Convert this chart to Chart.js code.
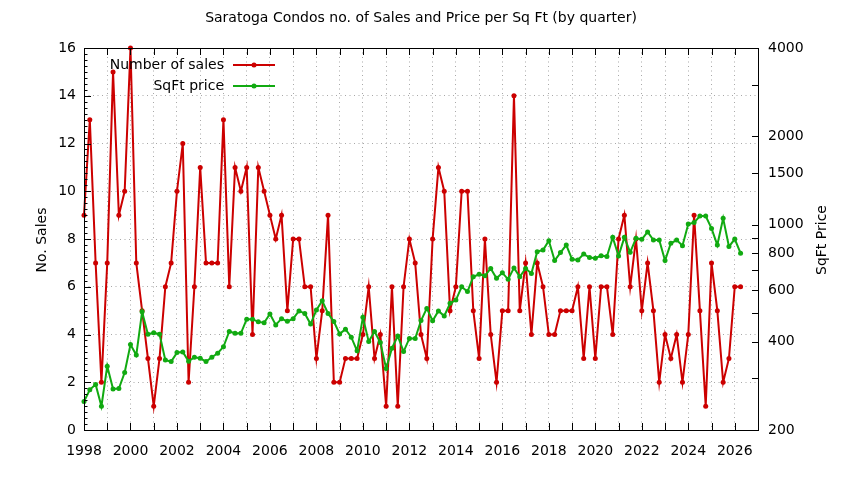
<!DOCTYPE html>
<html>
<head>
<meta charset="utf-8">
<script src="https://cdn.jsdelivr.net/npm/chart.js@4.4.0/dist/chart.umd.min.js"></script>
<style>
  html, body { margin: 0; padding: 0; background: #fff; }
  #wrap { width: 844px; height: 480px; }
</style>
</head>
<body>
<div id="wrap"><canvas id="myChart" width="844" height="480"></canvas></div>
<script>
// quarterly data, first point = 1998 Q1
var startYear = 1998;

var salesCount = [
  9, 13, 7, 2, 7, 15, 9, 10, 16, 7, 5, 3, 1, 3, 6, 7,
  10, 12, 2, 6, 11, 7, 7, 7, 13, 6, 11, 10, 11, 4, 11, 10,
  9, 8, 9, 5, 8, 8, 6, 6, 3, 5, 9, 2, 2, 3, 3, 3,
  4, 6, 3, 4, 1, 6, 1, 6, 8, 7, 4, 3, 8, 11, 10, 5,
  6, 10, 10, 5, 3, 8, 4, 2, 5, 5, 14, 5, 7, 4, 7, 6,
  4, 4, 5, 5, 5, 6, 3, 6, 3, 6, 6, 4, 8, 9, 6, 8,
  5, 7, 5, 2, 4, 3, 4, 2, 4, 9, 5, 1, 7, 5, 2, 3,
  6, 6
];

var sqftPrice = [
  250, 274, 286, 241, 330, 276, 277, 314, 391, 360, 506, 424, 429, 424, 346, 342,
  367, 369, 343, 354, 351, 342, 354, 365, 384, 433, 427, 427, 477, 477, 467, 464,
  497, 456, 479, 469, 479, 509, 499, 459, 513, 551, 499, 468, 425, 441, 414, 372,
  484, 400, 433, 397, 324, 380, 418, 370, 410, 410, 472, 519, 471, 509, 489, 540,
  554, 615, 592, 665, 678, 670, 710, 657, 686, 652, 713, 665, 710, 683, 810, 820,
  883, 755, 804, 853, 763, 759, 795, 773, 769, 785, 780, 906, 783, 906, 806, 899,
  892, 945, 887, 887, 755, 865, 887, 849, 1006, 1017, 1071, 1071, 972, 853, 1052, 843,
  894, 800
];

var priceTicks = [200, 300, 400, 500, 600, 700, 800, 900, 1000, 1500, 2000, 3000, 4000];
var priceLabels = [200, 400, 600, 800, 1000, 1500, 2000, 4000];

var red = '#cc0000';
var green = '#11aa11';

function toPoints(arr) {
  return arr.map(function (v, i) { return { x: startYear + i / 4, y: v }; });
}

Chart.defaults.font.family = '"DejaVu Sans", sans-serif';
Chart.defaults.font.size = 14;
Chart.defaults.color = '#000';

// gnuplot style frame, inward ticks, title, axis labels and legend
var gnuplotLook = {
  id: 'gnuplotLook',
  afterDraw: function (chart) {
    var ctx = chart.ctx;
    var a = chart.chartArea;
    var sx = chart.scales.x, sy = chart.scales.y, sy2 = chart.scales.y2;
    ctx.save();
    ctx.strokeStyle = '#000';
    ctx.lineWidth = 1;
    ctx.beginPath();
    var yr, p, v;
    for (yr = 1998; yr <= 2027; yr++) {
      p = Math.round(sx.getPixelForValue(yr)) + 0.5;
      ctx.moveTo(p, a.bottom); ctx.lineTo(p, a.bottom - 7);
      ctx.moveTo(p, a.top); ctx.lineTo(p, a.top + 7);
    }
    for (v = 0; v <= 16; v += 0.25) {
      p = Math.round(sy.getPixelForValue(v)) + 0.5;
      ctx.moveTo(a.left, p); ctx.lineTo(a.left + (v % 2 === 0 ? 7 : 3.5), p);
    }
    priceTicks.forEach(function (t) {
      p = Math.round(sy2.getPixelForValue(t)) + 0.5;
      ctx.moveTo(a.right, p); ctx.lineTo(a.right - 6, p);
    });
    ctx.stroke();
    ctx.strokeRect(Math.round(a.left) + 0.5, Math.round(a.top) + 0.5,
      Math.round(a.right - a.left), Math.round(a.bottom - a.top));

    ctx.fillStyle = '#000';
    ctx.font = '14px "DejaVu Sans", sans-serif';
    ctx.textAlign = 'center';
    ctx.textBaseline = 'middle';
    ctx.fillText('Saratoga Condos no. of Sales and Price per Sq Ft (by quarter)', 421, 18);

    ctx.save();
    ctx.translate(42, 240);
    ctx.rotate(-Math.PI / 2);
    ctx.fillText('No. Sales', 0, 0);
    ctx.restore();
    ctx.save();
    ctx.translate(822, 240);
    ctx.rotate(-Math.PI / 2);
    ctx.fillText('SqFt Price', 0, 0);
    ctx.restore();

    // key
    var keys = [['Number of sales', red, 65], ['SqFt price', green, 86]];
    keys.forEach(function (k) {
      ctx.textAlign = 'right';
      ctx.fillStyle = '#000';
      ctx.fillText(k[0], 224, k[2]);
      ctx.strokeStyle = k[1];
      ctx.lineWidth = 2;
      ctx.beginPath();
      ctx.moveTo(233, k[2]); ctx.lineTo(275, k[2]);
      ctx.stroke();
      ctx.fillStyle = k[1];
      ctx.beginPath();
      ctx.arc(254, k[2], 2.5, 0, Math.PI * 2);
      ctx.fill();
    });
    ctx.restore();
  }
};

var ctx = document.getElementById('myChart').getContext('2d');
var myChart = new Chart(ctx, {
  type: 'line',
  data: {
    datasets: [{
      label: 'Number of sales',
      data: toPoints(salesCount),
      yAxisID: 'y',
      borderColor: red,
      backgroundColor: red,
      borderWidth: 2,
      pointRadius: 2.5,
      pointBorderWidth: 0,
      tension: 0,
      clip: 4,
      order: 1
    }, {
      label: 'SqFt price',
      data: toPoints(sqftPrice),
      yAxisID: 'y2',
      borderColor: green,
      backgroundColor: green,
      borderWidth: 2,
      pointRadius: 2.5,
      pointBorderWidth: 0,
      tension: 0,
      clip: 4,
      order: 0
    }]
  },
  options: {
    responsive: false,
    animation: false,
    layout: { padding: { top: 48, left: 0, right: 0, bottom: 0 } },
    plugins: {
      legend: { display: false },
      title: { display: false },
      tooltip: { enabled: false }
    },
    scales: {
      x: {
        type: 'linear',
        min: 1998,
        max: 2027,
        afterFit: function (s) { s.height = 50; },
        ticks: {
          stepSize: 1,
          autoSkip: false,
          maxRotation: 0,
          padding: 13,
          callback: function (v) { return (v % 2 === 0 && v <= 2026) ? String(v) : ''; }
        },
        grid: { color: '#a8a8a8', lineWidth: 1, drawTicks: false },
        border: { display: false, dash: [1, 3.5] }
      },
      y: {
        position: 'left',
        min: 0,
        max: 16,
        afterFit: function (s) { s.width = 84; },
        ticks: { stepSize: 2, padding: 8 },
        grid: { color: '#a8a8a8', lineWidth: 1, drawTicks: false },
        border: { display: false, dash: [1, 3.5] }
      },
      y2: {
        type: 'logarithmic',
        position: 'right',
        min: 200,
        max: 4000,
        afterFit: function (s) { s.width = 86; },
        afterBuildTicks: function (s) {
          s.ticks = priceTicks.map(function (t) { return { value: t }; });
        },
        ticks: {
          autoSkip: false,
          padding: 10,
          callback: function (v) { return priceLabels.indexOf(v) >= 0 ? String(v) : ''; }
        },
        grid: { display: false, drawTicks: false },
        border: { display: false }
      }
    }
  },
  plugins: [gnuplotLook]
});
</script>
</body>
</html>
